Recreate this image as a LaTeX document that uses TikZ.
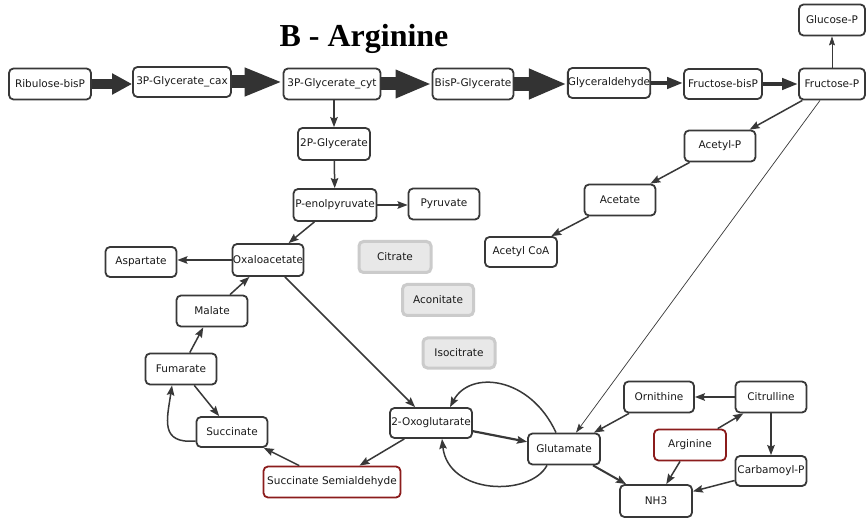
\documentclass[tikz,border=0pt]{standalone}
\usepackage{fontspec}
\setmainfont{DejaVu Sans}
\newfontfamily\titlefont{Liberation Serif}
\usetikzlibrary{arrows.meta}
\definecolor{ink}{HTML}{383838}
\definecolor{flux}{HTML}{333333}
\definecolor{paleedge}{HTML}{CBCBCB}
\definecolor{palefill}{HTML}{E8E8E8}
\definecolor{mark}{HTML}{8B1C1C}
\begin{document}
\begin{tikzpicture}[x=1pt,y=-1pt,
  mol/.style={draw=ink, line width=1.8pt, rounded corners=4.5pt, fill=white,
    inner sep=0pt, minimum height=31pt, minimum width=71pt,
    font=\fontsize{10.5}{12}\selectfont, text=black!90},
  inactive/.style={mol, draw=paleedge, fill=palefill, line width=3pt},
  target/.style={mol, draw=mark},
  rx/.style={draw=ink, line width=1.5pt, -{Stealth[length=10pt,width=7.5pt,inset=1.5pt]}},
  thinrx/.style={draw=ink, line width=0.7pt, -{Stealth[length=9pt,width=6pt,inset=1.5pt]}},
  bigflux/.style={draw=flux, line width=#1, line cap=butt},
]
\useasboundingbox (0,0) rectangle (867,518);
\fill[white] (0,0) rectangle (867,518);

% heading
\node[anchor=base, font=\titlefont\bfseries\fontsize{32}{36}\selectfont] (title) at (364,47) {B - Arginine};

% upper pathway
\node[mol, minimum width=82pt] (rib) at (50,84) {Ribulose-bisP};
\node[mol, minimum width=98pt, minimum height=30pt] (cax) at (182,82) {3P-Glycerate\_cax};
\node[mol, minimum width=97pt] (cyt) at (332,84) {3P-Glycerate\_cyt};
\node[mol, minimum width=81pt] (bisp) at (473,84) {BisP-Glycerate};
\node[mol, minimum width=82pt, minimum height=30pt] (gald) at (609,83) {Glyceraldehyde};
\node[mol, minimum width=78pt, minimum height=30pt] (fbp) at (723,84) {Fructose-bisP};
\node[mol, minimum width=66pt] (fp) at (832,84) {Fructose-P};
\node[mol, minimum width=66pt] (glc) at (832,20) {Glucose-P};

% glycolysis branch and TCA cycle
\node[mol, minimum width=72pt, minimum height=32pt] (p2g) at (334,144) {2P-Glycerate};
\node[mol, minimum width=83pt, minimum height=32pt] (pep) at (335,205) {P-enolpyruvate};
\node[mol] (pyr) at (444,204) {Pyruvate};
\node[mol, minimum height=32pt] (oaa) at (268,260) {Oxaloacetate};
\node[mol, minimum height=30pt] (asp) at (141,262) {Aspartate};
\node[inactive, minimum width=72pt] (cit) at (395,257) {Citrate};
\node[inactive] (aco) at (438,300) {Aconitate};
\node[inactive, minimum width=72pt, minimum height=30pt] (ici) at (459,353) {Isocitrate};
\node[mol] (mal) at (212,311) {Malate};
\node[mol] (fum) at (181,369) {Fumarate};
\node[mol, minimum height=30pt] (suc) at (232,432) {Succinate};
\node[target, minimum width=137pt] (ssa) at (332,482) {Succinate Semialdehyde};
\node[mol, minimum width=82pt, minimum height=30pt] (oxo) at (431,423) {2-Oxoglutarate};

% arginine / urea branch
\node[mol, minimum width=72pt] (glu) at (564,449) {Glutamate};
\node[mol, minimum width=70pt] (orn) at (659,397) {Ornithine};
\node[mol] (ctl) at (771,397) {Citrulline};
\node[target, minimum width=72pt] (arg) at (690,445) {Arginine};
\node[mol, minimum height=30pt] (cbp) at (771,471) {Carbamoyl-P};
\node[mol, minimum width=72pt, minimum height=32pt] (nh3) at (656,501) {NH3};

% acetate branch
\node[mol] (acp) at (720,146) {Acetyl-P};
\node[mol] (ace) at (620,200) {Acetate};
\node[mol, minimum width=72pt, minimum height=30pt] (acoa) at (521,252) {Acetyl CoA};

% high-flux reactions (width scaled to flux)
\draw[bigflux=10pt, -{Triangle[length=20pt,width=20pt]}] (rib.east) -- (rib.east -| cax.west);
\draw[bigflux=13pt, -{Triangle[length=38pt,width=26pt]}] (cax.east) -- (cax.east -| cyt.west);
\draw[bigflux=13pt, -{Triangle[length=36pt,width=26pt]}] (cyt.east) -- (bisp.west);
\draw[bigflux=14pt, -{Triangle[length=38pt,width=28pt]}] (bisp.east) -- (bisp.east -| gald.west);
\draw[bigflux=4.5pt, -{Triangle[length=16pt,width=11pt]}] (gald.east) -- (gald.east -| fbp.west);
\draw[bigflux=4.5pt, -{Triangle[length=16pt,width=11pt]}] (fbp.east) -- (fbp.east -| fp.west);

% ordinary reactions
\draw[thinrx] (fp) -- (glc);
\draw[rx] (cyt.south -| p2g.north) -- (p2g.north);
\draw[rx] (p2g) -- (pep);
\draw[rx] (pep) -- (pep -| pyr.west);
\draw[rx] (pep) -- (oaa);
\draw[rx] (oaa) -- (oaa -| asp.east);
\draw[rx] (mal) -- (oaa);
\draw[rx] (fum) -- (mal);
\draw[rx] (fum) -- (suc);
\draw[rx] ([yshift=-9pt]suc.west) .. controls +(-36,3) and +(-5,34) .. ([xshift=-9pt]fum.south);
\draw[rx] (oaa) -- (oxo);
\draw[rx] (oxo) -- (ssa);
\draw[rx] (ssa) -- (suc);
\draw[rx, line width=2.2pt] (oxo) -- (glu);
\draw[rx] ([xshift=-8pt]glu.north) .. controls (530,376) and (470,370) .. ([xshift=19pt]oxo.north);
\draw[rx] ([xshift=-17pt]glu.south) .. controls (530,497) and (448,495) .. ([xshift=11pt]oxo.south);
\draw[thinrx] (fp) -- (glu);
\draw[rx] (fp) -- (acp);
\draw[rx] (acp) -- (ace);
\draw[rx] (ace) -- (acoa);
\draw[rx] (orn) -- (glu);
\draw[rx] (ctl) -- (orn);
\draw[rx] (arg) -- (ctl);
\draw[rx] (arg) -- (nh3);
\draw[rx] (ctl) -- (cbp);
\draw[rx] (cbp) -- (nh3);
\draw[rx, line width=2pt] (glu) -- (nh3);
\end{tikzpicture}
\end{document}
